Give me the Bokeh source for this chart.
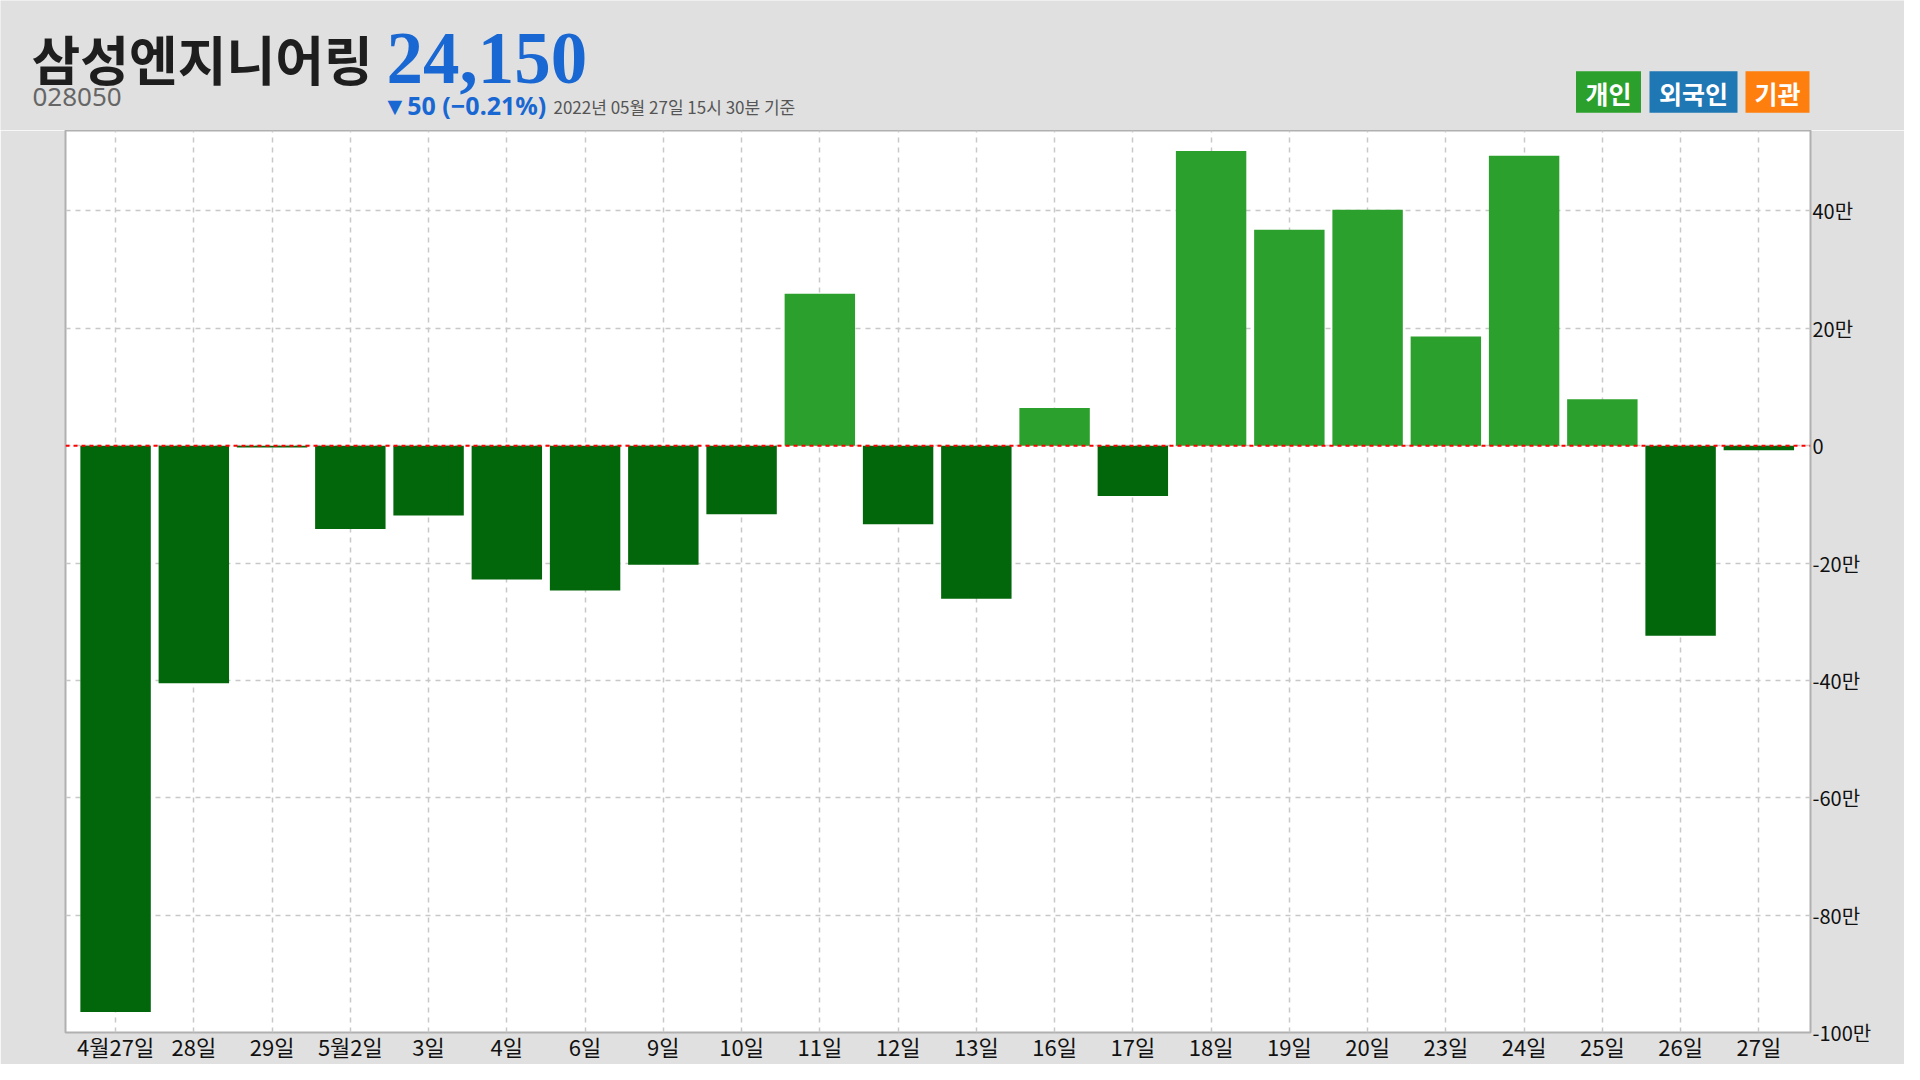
from bokeh.plotting import figure
from bokeh.models import Range1d, FixedTicker, Span
from bokeh.layouts import column
from bokeh.core.properties import value
from bokeh.embed import file_html
from bokeh.resources import INLINE

# ---- data ----
dates = ["4월27일", "28일", "29일", "5월2일", "3일", "4일", "6일", "9일", "10일", "11일",
         "12일", "13일", "16일", "17일", "18일", "19일", "20일", "23일", "24일", "25일",
         "26일", "27일"]
# 개인 순매수 (단위: 만 주)
individual = [-96.5, -40.5, -0.3, -14.2, -11.9, -22.8, -24.7, -20.3, -11.7, 25.9,
              -13.4, -26.1, 6.4, -8.6, 50.2, 36.8, 40.2, 18.6, 49.4, 7.9,
              -32.4, -0.8]
y_ticks = [-100, -80, -60, -40, -20, 0, 20, 40]
y_tick_labels = ["-100만", "-80만", "-60만", "-40만", "-20만", "0", "20만", "40만"]

name = "삼성엔지니어링"
code = "028050"
price = "24,150"
change = "▼50 (−0.21%)"
stamp = "2022년 05월 27일 15시 30분 기준"
legend_items = ["개인", "외국인", "기관"]
legend_colors = ["#2ca02c", "#1f77b4", "#ff7f0e"]

POS = "#2ca02c"
NEG = "#02660a"
BG = "#e0e0e0"
W = 1904
HEAD_H = 130
MAIN_H = 934

# ---- header (pixel coordinate space, y downward) ----
h = figure(width=W, height=HEAD_H, output_backend="svg", toolbar_location=None,
           x_range=Range1d(0, W), y_range=Range1d(HEAD_H, 0),
           x_axis_location=None, y_axis_location=None,
           min_border=0, min_border_left=0, min_border_right=0,
           min_border_top=0, min_border_bottom=0)
h.frame_align = False
h.border_fill_color = BG
h.background_fill_color = BG
h.outline_line_color = None
h.xgrid.visible = False
h.ygrid.visible = False

def txt(x, y, t, size, color, font, style="normal", align="left"):
    h.text(x=[x], y=[y], text=[t], text_font=value(font), text_font_size=size,
           text_color=color, text_font_style=style, text_align=align,
           text_baseline="middle")

txt(31, 57, name, "53px", "#1e1e1e", "Noto Sans CJK KR", "bold")
txt(386, 58, price, "73px", "#1967d2", "Liberation Serif", "bold")
txt(32, 96, code, "26px", "#666666", "Noto Sans")
txt(382, 104, change, "25px", "#1967d2", "Noto Sans", "bold")
txt(553, 106, stamp, "17px", "#555555", "Noto Sans CJK KR")

lg_x = [1608, 1693, 1777]
lg_w = [65, 88, 64]
h.rect(x=lg_x, y=[91.5] * 3, width=lg_w, height=[41.6] * 3, fill_color=legend_colors,
       line_color=None)
h.text(x=lg_x, y=[92] * 3, text=legend_items, text_font=value("Noto Sans CJK KR"),
       text_font_size="25px", text_color="white", text_font_style="bold",
       text_align="center", text_baseline="middle")

# ---- main chart ----
p = figure(width=W, height=MAIN_H, output_backend="svg", toolbar_location=None,
           x_range=Range1d(-0.64, 21.66), y_range=Range1d(-100, 53.7),
           y_axis_location="right", min_border_left=65, min_border_right=94,
           min_border_top=0, min_border_bottom=32)
p.frame_align = False
p.border_fill_color = BG
p.background_fill_color = "white"
p.outline_line_color = "#b0b0b0"
p.outline_line_width = 2

xs = list(range(len(dates)))
colors = [POS if v >= 0 else NEG for v in individual]
p.vbar(x=xs, top=individual, bottom=0, width=0.9, color=colors, line_color=None)

p.add_layout(Span(location=0, dimension="width", line_color="red",
                  line_dash="4 4", line_width=2))

p.xaxis.ticker = FixedTicker(ticks=xs)
p.xaxis.major_label_overrides = {i: d for i, d in enumerate(dates)}
p.yaxis.ticker = FixedTicker(ticks=y_ticks)
p.yaxis.major_label_overrides = {t: l for t, l in zip(y_ticks, y_tick_labels)}
for ax in (p.xaxis, p.yaxis):
    ax.axis_line_color = None
    ax.major_tick_line_color = None
    ax.minor_tick_line_color = None
    ax.major_tick_out = 0
    ax.major_tick_in = 0
    ax.major_label_text_font = "Noto Sans CJK KR"
    ax.major_label_text_color = "#111111"
p.xaxis.major_label_text_font_size = "22px"
p.xaxis.major_label_standoff = -3
p.yaxis.major_label_text_font_size = "20px"
p.yaxis.major_label_standoff = 2

for g in (p.xgrid, p.ygrid):
    g.grid_line_color = "#c8c8c8"
    g.grid_line_dash = "5 5"
    g.grid_line_width = 1.5
p.xgrid.ticker = FixedTicker(ticks=xs)
p.ygrid.ticker = FixedTicker(ticks=y_ticks)

layout = column(h, p, spacing=0)
open("out.html", "w").write(file_html(layout, INLINE))
